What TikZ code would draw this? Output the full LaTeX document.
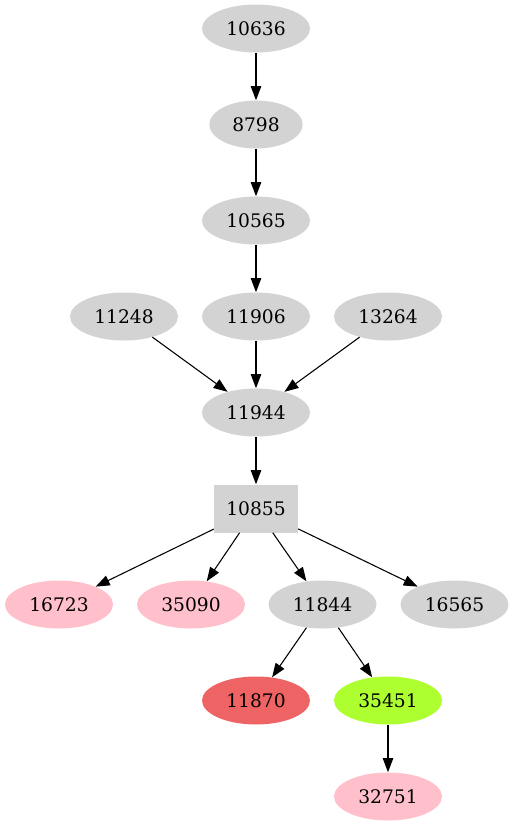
\documentclass[tikz,border=0pt]{standalone}
\usepackage{fontspec}
\setmainfont{DejaVu Serif}
\usetikzlibrary{shapes.geometric,arrows.meta}
\definecolor{lgray}{HTML}{D3D3D3}
\definecolor{gvpink}{HTML}{FFC0CB}
\definecolor{gvred}{HTML}{EE6363}
\definecolor{gvgreen}{HTML}{ADFF2F}
\begin{document}
\begin{tikzpicture}[x=0.75pt,y=-0.75pt,
  nd/.style={ellipse,fill=lgray,draw=none,minimum width=81pt,minimum height=36pt,inner sep=0pt,font=\fontsize{14pt}{16pt}\selectfont},
  nsmall/.style={nd,minimum width=70pt},
  pk/.style={nd,fill=gvpink},
  rd/.style={nd,fill=gvred},
  gn/.style={nd,fill=gvgreen},
  bx/.style={rectangle,fill=lgray,draw=none,minimum width=63pt,minimum height=36pt,inner sep=0pt,font=\fontsize{14pt}{16pt}\selectfont},
  edge/.style={draw=black,line width=0.8pt,-{Triangle[length=10.5pt,width=7.8pt]}}]
\useasboundingbox (0,0) rectangle (514,827);
\node[nd] (n10636) at (256,28.5) {10636};
\node[nsmall] (n8798) at (256,124.5) {8798};
\node[nd] (n10565) at (256,220.5) {10565};
\node[nd] (n11248) at (124,316.5) {11248};
\node[nd] (n11906) at (256,316.5) {11906};
\node[nd] (n13264) at (388,316.5) {13264};
\node[nd] (n11944) at (256,412.5) {11944};
\node[bx] (n10855) at (256,508.5) {10855};
\node[pk] (n16723) at (59,604.5) {16723};
\node[pk] (n35090) at (191,604.5) {35090};
\node[nd] (n11844) at (322.5,604.5) {11844};
\node[nd] (n16565) at (454.5,604.5) {16565};
\node[rd] (n11870) at (256,700.5) {11870};
\node[gn] (n35451) at (388,700.5) {35451};
\node[pk] (n32751) at (388,796.5) {32751};
\draw[edge] (n10636) -- (n8798);
\draw[edge] (n8798) -- (n10565);
\draw[edge] (n10565) -- (n11906);
\draw[edge] (n11248) -- (n11944);
\draw[edge] (n11906) -- (n11944);
\draw[edge] (n13264) -- (n11944);
\draw[edge] (n11944) -- (n10855);
\draw[edge] (n10855) -- (n16723);
\draw[edge] (n10855) -- (n35090);
\draw[edge] (n10855) -- (n11844);
\draw[edge] (n10855) -- (n16565);
\draw[edge] (n11844) -- (n11870);
\draw[edge] (n11844) -- (n35451);
\draw[edge] (n35451) -- (n32751);
\end{tikzpicture}
\end{document}
